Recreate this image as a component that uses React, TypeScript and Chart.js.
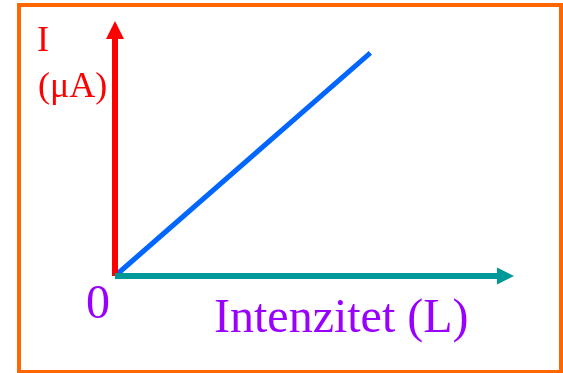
import React, { useEffect, useRef } from "react";
import { Chart, registerables } from "chart.js";

Chart.register(...registerables);

// Data (arbitrary units: proportional relation I ~ L)
const lineX: number[] = [0, 6.4];
const lineY: number[] = [0, 8.75];
const xMax = 10;
const yMax = 10;

const yLabelTop = "I";
const yLabelUnit = "(μA)";
const originLabel = "0";
const xLabel = "Intenzitet (L)";

const RED = "#FF0000";
const TEAL = "#009999";
const BLUE = "#0066FF";
const ORANGE = "#FF6600";
const PURPLE = "#9900FF";
const FONT = "'Liberation Serif', 'Times New Roman', serif";

const decorPlugin = {
  id: "decor",
  beforeDraw(chart: any) {
    const ctx = chart.ctx as CanvasRenderingContext2D;
    ctx.save();
    ctx.fillStyle = "#ffffff";
    ctx.fillRect(0, 0, chart.width, chart.height);
    ctx.strokeStyle = ORANGE;
    ctx.lineWidth = 4;
    ctx.strokeRect(19, 5, 542, 367);
    ctx.restore();
  },
  afterDatasetsDraw(chart: any) {
    const ctx = chart.ctx as CanvasRenderingContext2D;
    const xs = chart.scales.x;
    const ys = chart.scales.y;
    const ox = xs.getPixelForValue(0);
    const oy = ys.getPixelForValue(0);
    const xEnd = xs.getPixelForValue(xMax);
    const yEnd = ys.getPixelForValue(yMax);
    ctx.save();
    // Y axis (red)
    ctx.strokeStyle = RED;
    ctx.lineWidth = 6;
    ctx.lineCap = "butt";
    ctx.beginPath();
    ctx.moveTo(ox, oy);
    ctx.lineTo(ox, yEnd + 17);
    ctx.stroke();
    ctx.fillStyle = RED;
    ctx.beginPath();
    ctx.moveTo(ox, yEnd);
    ctx.lineTo(ox - 9, yEnd + 18);
    ctx.lineTo(ox + 9, yEnd + 18);
    ctx.closePath();
    ctx.fill();
    // X axis (teal)
    ctx.strokeStyle = TEAL;
    ctx.beginPath();
    ctx.moveTo(ox, oy);
    ctx.lineTo(xEnd - 16, oy);
    ctx.stroke();
    ctx.fillStyle = TEAL;
    ctx.beginPath();
    ctx.moveTo(xEnd, oy);
    ctx.lineTo(xEnd - 17, oy - 8.5);
    ctx.lineTo(xEnd - 17, oy + 8.5);
    ctx.closePath();
    ctx.fill();
    // Labels
    ctx.textBaseline = "alphabetic";
    ctx.textAlign = "left";
    ctx.fillStyle = RED;
    ctx.font = `36px ${FONT}`;
    ctx.fillText(yLabelTop, ox - 78, yEnd + 30);
    ctx.fillText(yLabelUnit, ox - 77, yEnd + 76);
    ctx.fillStyle = PURPLE;
    ctx.font = `48px ${FONT}`;
    ctx.fillText(originLabel, ox - 29, oy + 42);
    ctx.fillText(xLabel, ox + 99, oy + 56);
    ctx.restore();
  },
};

export default function App() {
  const ref = useRef<HTMLCanvasElement | null>(null);
  useEffect(() => {
    if (!ref.current) return;
    const chart = new Chart(ref.current, {
      type: "scatter",
      data: {
        datasets: [
          {
            data: lineX.map((x, i) => ({ x, y: lineY[i] })),
            showLine: true,
            borderColor: BLUE,
            borderWidth: 5,
            pointRadius: 0,
            clip: false as any,
            borderCapStyle: "butt",
          } as any,
        ],
      },
      options: {
        responsive: false,
        animation: false,
        layout: { padding: { left: 115, right: 49, top: 21, bottom: 97 } },
        plugins: { legend: { display: false }, tooltip: { enabled: false } },
        scales: {
          x: { type: "linear", min: 0, max: xMax, display: false },
          y: { type: "linear", min: 0, max: yMax, display: false },
        },
      },
      plugins: [decorPlugin],
    });
    return () => chart.destroy();
  }, []);
  return (
    <div style={{ position: "fixed", left: 0, top: 0, width: 563, height: 373 }}>
      <canvas ref={ref} width={563} height={373} style={{ width: 563, height: 373, display: "block" }} />
    </div>
  );
}
